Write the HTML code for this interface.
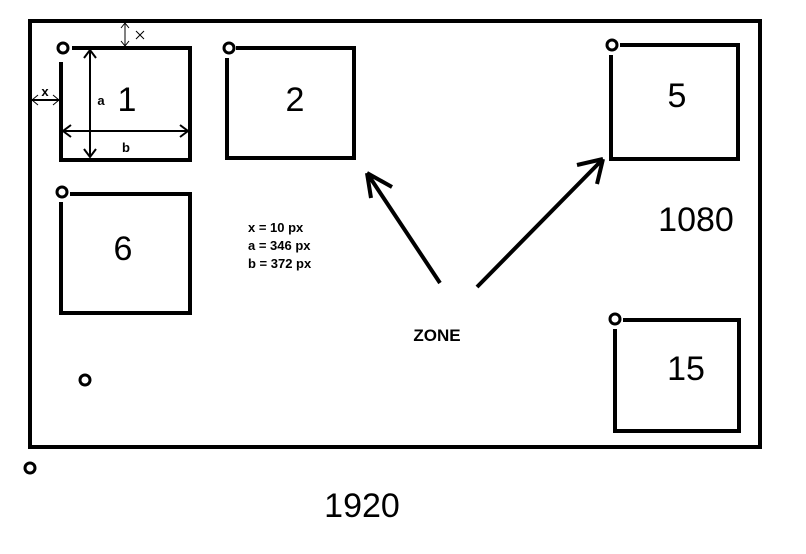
<!DOCTYPE html>
<html><head><style>body{margin:0;background:#fff}svg{display:block}</style></head><body>
<svg width="806" height="554" viewBox="0 0 806 554" xmlns="http://www.w3.org/2000/svg" font-family="Liberation Sans, sans-serif">
<rect width="806" height="554" fill="#fff"/>
<g fill="none" stroke="#000" stroke-width="4">
<rect x="30" y="21" width="730" height="426"/>
<path d="M61 62 V160 H190 V48 H72"/>
<path d="M227 58 V158 H354 V48 H236"/>
<path d="M611 55 V159 H738 V45 H620"/>
<path d="M61 202 V313 H190 V194 H70"/>
<path d="M615 329 V431 H739 V320 H623"/>
</g>
<g fill="none" stroke="#000" stroke-width="3">
<circle cx="63" cy="48" r="5"/><circle cx="229" cy="48" r="5"/><circle cx="612" cy="45" r="5"/>
<circle cx="62" cy="192" r="5"/><circle cx="615" cy="319" r="5"/><circle cx="85" cy="380" r="5"/>
<circle cx="30" cy="468" r="5"/>
</g>
<g stroke="#000" stroke-width="4" fill="none">
<path d="M440 283 L367 173 M367 173 L371 198 M367 173 L392 187"/>
<path d="M477 287 L603 159 M603 159 L577 165 M603 159 L597 184"/>
</g>
<g stroke="#000" stroke-width="2" fill="none">
<path d="M90 50 V157 M84 58 L90 50 L96 58 M84 149 L90 157 L96 149"/>
<path d="M63 131 H188 M71 125 L63 131 L71 137 M180 125 L188 131 L180 137"/>
<path d="M32 100 H59"/>
<path d="M38 95 L32 100 L38 105 M53 95 L59 100 L53 105" stroke-width="1"/>
<path d="M125 23 V46 M121 28 L125 23 L129 28 M121 41 L125 46 L129 41" stroke-width="1"/>
<path d="M136 31 L144 39 M144 31 L136 39" stroke-width="1"/>
</g>
<g fill="#000">
<text x="127" y="111" font-size="34" text-anchor="middle">1</text>
<text x="295" y="111" font-size="34" text-anchor="middle">2</text>
<text x="677" y="107" font-size="34" text-anchor="middle">5</text>
<text x="123" y="260" font-size="34" text-anchor="middle">6</text>
<text x="686" y="380" font-size="34" text-anchor="middle">15</text>
<text x="696" y="231" font-size="34" text-anchor="middle">1080</text>
<text x="362" y="517" font-size="34" text-anchor="middle">1920</text>
<text x="437" y="341" font-size="17" font-weight="bold" text-anchor="middle">ZONE</text>
<text x="248" y="232" font-size="13" font-weight="bold">x = 10 px</text>
<text x="248" y="250" font-size="13" font-weight="bold">a = 346 px</text>
<text x="248" y="268" font-size="13" font-weight="bold">b = 372 px</text>
<text x="101" y="105" font-size="13" font-weight="bold" text-anchor="middle">a</text>
<text x="126" y="152" font-size="13" font-weight="bold" text-anchor="middle">b</text>
<text x="45" y="96" font-size="13" font-weight="bold" text-anchor="middle">x</text>
</g>
</svg>
</body></html>
